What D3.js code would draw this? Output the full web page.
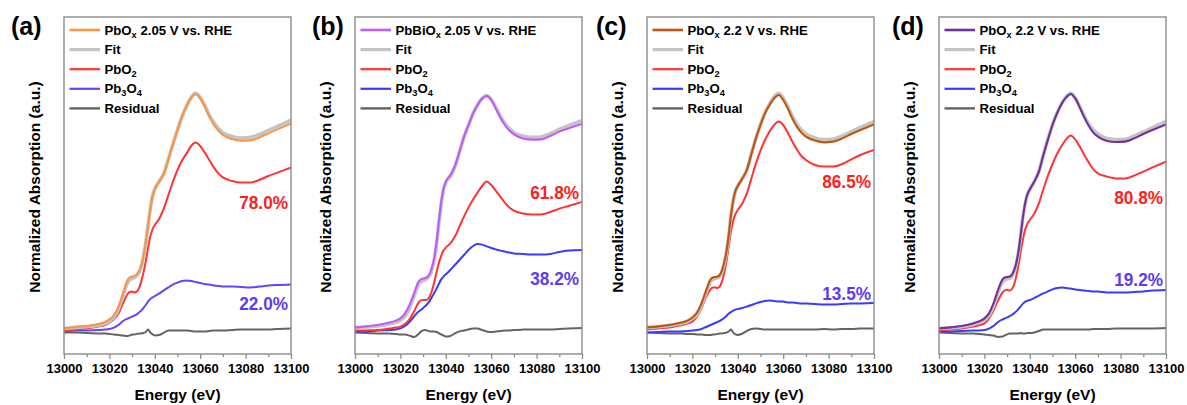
<!DOCTYPE html>
<html>
<head>
<meta charset="utf-8">
<script src="https://cdn.jsdelivr.net/npm/d3@7"></script>
<style>
  html, body { margin: 0; padding: 0; background: #fff; }
  svg { display: block; font-family: Arial, "Liberation Sans", sans-serif; font-weight: bold; }
  text { white-space: pre; }
</style>
</head>
<body>
<svg id="chart" width="1187" height="405"></svg>
<script>
// Pb L3-edge XANES linear-combination fits, energy grid in eV
const energy = [13000, 13005, 13010, 13015, 13018, 13020, 13022, 13024, 13026, 13028,
  13029, 13030, 13031, 13032, 13033, 13034, 13035, 13036, 13037, 13038,
  13039, 13040, 13042, 13044, 13046, 13048, 13050, 13052, 13054, 13056,
  13058, 13060, 13062, 13064, 13066, 13068, 13070, 13074, 13078, 13082,
  13086, 13090, 13094, 13100];

const panelTags = ["(a)", "(b)", "(c)", "(d)"];
const sampleNames = ["PbO_x 2.05 V vs. RHE", "PbBiO_x 2.05 V vs. RHE", "PbO_x 2.2 V vs. RHE", "PbO_x 2.2 V vs. RHE"];
const legendNames = ["Fit", "PbO_2", "Pb_3O_4", "Residual"];
const weightPbO2 = [78.0, 61.8, 86.5, 80.8];
const weightPb3O4 = [22.0, 38.2, 13.5, 19.2];
const xTicks = [13000, 13020, 13040, 13060, 13080, 13100];
const xMinorTicks = [13010, 13030, 13050, 13070, 13090];

// (a) PbOx 2.05 V
const sampleA = [0.8,1.5,2.0,3.0,4.0,5.3,7.5,11.7,18.3,25.0,26.3,26.8,27.0,27.8,29.2,32.0,36.7,43.3,51.7,60.0,66.7,70.3,74.2,78.0,85.3,93.0,100.0,106.7,112.0,116.0,118.0,115.8,111.7,106.7,102.7,99.7,97.5,95.5,94.7,94.8,96.3,98.3,100.3,103.3];
const fitA = [0.8,1.3,1.6,2.4,3.2,4.4,6.4,10.5,17.3,23.6,25.0,25.8,26.2,27.2,28.8,31.8,36.7,43.5,52.0,60.5,67.0,70.6,74.5,78.3,85.5,93.0,100.0,106.7,112.0,116.2,118.3,116.2,112.3,107.5,103.7,100.8,98.7,96.8,96.0,96.3,97.8,99.8,101.8,105.0];
const pbo2A = [0.0,0.3,0.8,1.7,2.5,3.7,5.3,8.3,13.3,18.0,19.0,19.2,18.8,19.2,20.8,24.2,28.7,34.2,40.8,46.7,50.3,52.5,55.8,60.8,67.5,74.2,80.0,84.7,88.3,92.0,93.7,92.0,88.7,85.0,81.3,78.3,76.3,74.5,73.7,73.7,75.0,77.0,78.7,81.2];
const pb3o4A = [-0.5,-0.3,-0.2,0.0,0.2,0.5,1.2,2.5,4.5,5.7,6.2,6.7,7.2,7.8,8.7,9.7,11.0,12.5,14.2,15.5,16.3,17.0,18.3,19.8,21.3,22.7,23.7,24.5,24.7,24.5,24.0,23.5,23.0,22.7,22.3,22.0,21.8,21.7,21.5,21.3,21.7,22.2,22.5,22.8];
const residualA = [-1.2,-1.3,-1.5,-1.7,-1.8,-2.0,-2.2,-2.5,-2.8,-3.0,-2.7,-2.3,-2.2,-2.0,-1.8,-1.7,-1.5,-1.0,0.3,-1.2,-2.2,-2.7,-2.5,-1.3,-0.3,-0.2,-0.2,-0.3,-0.3,-0.5,-0.7,-0.8,-0.7,-0.5,-0.3,-0.3,-0.3,0.0,0.3,0.2,0.2,0.3,0.5,0.7];

// (b) PbBiOx 2.05 V
const sampleB = [1.3,1.8,2.5,3.7,4.7,5.8,8.3,12.5,18.3,24.2,25.3,25.7,26.0,26.7,28.3,31.7,36.7,45.0,55.0,64.2,70.8,74.2,77.5,82.0,89.2,96.7,102.5,108.3,112.5,115.7,117.0,115.0,110.8,106.3,102.5,99.7,97.8,95.8,95.2,95.3,97.0,99.2,100.8,103.0];
const fitB = [1.2,1.5,2.0,3.0,3.8,4.7,6.8,10.8,16.8,22.7,24.0,24.7,25.2,26.0,27.5,30.8,35.5,43.5,53.5,63.0,70.0,73.7,77.0,81.5,88.7,96.3,102.3,108.2,112.5,115.8,117.2,115.3,111.3,107.0,103.3,100.7,98.8,97.0,96.3,96.5,98.2,100.3,102.2,104.7];
const pbo2B = [-0.3,-0.2,0.0,0.7,1.2,1.7,3.0,5.3,9.2,13.7,14.8,15.0,15.0,15.3,17.0,20.0,24.2,29.2,33.7,37.2,39.7,41.2,43.3,46.7,51.7,56.7,61.3,65.3,68.7,72.0,74.2,72.5,69.7,66.7,63.7,61.3,59.7,58.3,57.8,57.8,59.0,60.7,62.0,64.0];
const pb3o4B = [-0.8,-0.7,-0.3,0.0,0.3,0.8,2.0,4.0,6.7,9.2,10.0,11.0,12.0,13.2,14.7,16.7,18.7,20.8,23.2,25.3,26.7,27.8,30.0,32.5,35.0,37.5,40.0,42.0,43.0,42.7,41.8,41.0,40.3,39.7,39.2,38.7,38.3,38.0,37.7,37.7,38.0,39.0,39.7,40.0];
const residualB = [-1.3,-1.5,-1.7,-1.8,-2.0,-2.2,-2.3,-2.8,-3.5,-2.0,-0.8,-0.2,0.0,-0.3,-0.7,-0.8,-0.7,-1.0,-1.7,-2.2,-2.8,-3.3,-3.0,-1.7,-0.7,-0.2,0.3,0.8,0.7,0.0,-0.7,-1.0,-0.8,-0.5,-0.3,-0.2,0.0,0.2,0.3,0.2,0.3,0.5,0.7,1.0];

// (c) PbOx 2.2 V
const sampleC = [1.3,1.8,2.5,3.7,4.8,6.3,8.7,13.3,19.7,25.3,26.3,26.5,26.7,27.5,29.7,33.7,39.2,47.5,57.5,65.0,69.7,72.0,75.8,80.0,88.0,95.8,102.5,108.3,112.5,115.8,117.5,115.0,110.8,105.8,101.7,98.7,96.7,94.7,93.8,94.2,95.8,98.0,100.0,102.8];
const fitC = [1.2,1.6,2.3,3.3,4.3,5.7,7.8,12.3,18.5,24.2,25.3,25.7,26.0,26.8,29.0,33.0,38.7,47.0,57.0,64.7,69.5,72.0,75.8,80.2,88.2,96.0,102.8,108.7,113.0,116.5,118.3,116.0,111.8,107.0,103.0,100.0,98.0,96.0,95.2,95.5,97.0,99.2,101.3,104.2];
const pbo2C = [0.3,0.8,1.3,2.3,3.3,4.2,6.7,10.8,16.3,20.3,21.3,21.3,21.0,21.7,24.2,28.3,34.2,41.7,49.2,54.7,58.0,60.0,63.3,68.3,75.8,83.3,89.7,95.0,99.2,102.5,104.2,102.5,98.7,94.2,90.3,87.0,85.0,82.5,81.7,81.7,83.0,85.3,87.5,90.0];
const pb3o4C = [-1.2,-1.0,-0.8,-0.7,-0.5,-0.3,0.0,0.5,1.5,2.5,3.0,3.5,4.0,4.5,5.2,6.0,7.0,8.2,9.0,9.7,10.2,10.5,11.0,11.7,12.5,13.3,14.0,14.5,14.7,14.5,14.3,14.2,13.8,13.7,13.5,13.3,13.2,13.0,12.8,12.8,13.0,13.2,13.3,13.5];
const residualC = [-1.3,-1.5,-1.7,-1.8,-2.0,-2.0,-2.2,-2.3,-2.5,-2.5,-2.3,-2.2,-2.0,-1.8,-1.7,-1.5,-1.3,-0.7,0.2,-1.3,-2.2,-2.5,-1.8,-0.5,0.5,0.7,0.5,0.3,0.3,0.3,0.2,0.2,0.2,0.2,0.2,0.3,0.3,0.3,0.5,0.3,0.5,0.5,0.7,0.8];

// (d) PbOx 2.2 V
const sampleD = [0.8,1.3,2.0,3.3,4.5,5.8,8.3,13.3,20.0,25.3,26.3,26.5,26.7,27.5,29.7,33.3,39.2,47.5,56.7,63.7,68.0,70.3,74.2,79.2,87.5,95.3,102.5,108.3,113.0,116.3,118.0,115.8,111.3,106.3,102.0,98.7,96.7,94.5,94.0,94.2,95.8,98.0,100.0,102.8];
const fitD = [0.7,1.1,1.7,2.8,3.8,5.0,7.3,12.0,18.8,24.0,25.0,25.5,25.8,26.7,29.0,32.8,38.8,47.2,56.5,63.5,67.8,70.3,74.3,79.3,87.7,95.5,102.7,108.5,113.2,116.5,118.3,116.2,111.8,107.0,103.0,100.0,98.0,95.8,95.2,95.3,97.0,99.0,101.2,104.3];
const pbo2D = [0.0,0.3,0.8,1.7,2.5,3.3,5.7,9.7,14.7,18.8,19.8,20.0,19.7,20.3,22.5,26.7,32.5,39.2,45.5,50.3,53.3,55.0,58.3,63.3,70.5,77.2,83.0,88.0,92.0,95.3,97.2,95.3,91.7,87.5,83.7,80.3,78.3,76.7,75.8,75.8,77.2,79.2,81.3,84.2];
const pb3o4D = [-0.8,-0.7,-0.5,-0.3,-0.2,0.0,0.7,2.0,4.0,5.3,5.8,6.3,6.8,7.5,8.3,9.3,10.5,11.8,13.2,14.2,14.7,15.0,16.0,17.2,18.3,19.3,20.3,21.0,21.3,21.0,20.7,20.3,20.0,19.7,19.5,19.3,19.2,18.8,18.7,18.7,19.0,19.3,19.7,20.0];
const residualD = [-1.3,-1.5,-1.7,-1.8,-2.0,-2.2,-2.5,-2.8,-3.5,-3.3,-2.7,-2.2,-1.8,-1.7,-1.7,-1.8,-1.7,-1.5,-1.8,-1.7,-1.5,-1.5,-1.2,-0.5,0.2,0.3,0.3,0.2,0.2,0.2,0.2,0.2,0.3,0.3,0.3,0.5,0.5,0.5,0.7,0.7,0.7,0.8,0.8,1.0];

// ---- styling & layout ----
const sampleColors = ["#f79646", "#c05cf8", "#c0550f", "#7030a0"];
const pb3o4Colors = ["#6a40ff", "#3a3aff", "#3a3aff", "#3a3aff"];
const pbo2Color = "#ff3333";
const fitColor = "#c4c4c4";
const residualColor = "#646464";
const frameColor = "#8c8c8c";
const pctRed = "#ff2020";
const pctBlue = "#5b3cf5";

const panels = [
  { sample: sampleA, fit: fitA, pbo2: pbo2A, pb3o4: pb3o4A, residual: residualA },
  { sample: sampleB, fit: fitB, pbo2: pbo2B, pb3o4: pb3o4B, residual: residualB },
  { sample: sampleC, fit: fitC, pbo2: pbo2C, pb3o4: pb3o4C, residual: residualC },
  { sample: sampleD, fit: fitD, pbo2: pbo2D, pb3o4: pb3o4D, residual: residualD }
];

const frameLeft = [64, 355, 647, 939];
const tagX = [11, 312, 596, 892];
const plotW = 227, plotTop = 17, plotBottom = 354;
// baselines of the percentage annotations
const pctRedY = [209, 199, 188, 204];
const pctBlueY = [310, 285, 300, 286];

const svg = d3.select("#chart");
const y = d3.scaleLinear().domain([-12, 156.5]).range([plotBottom, plotTop]);

// text with "_c" marking a one-character subscript
function richText(sel, str, size) {
  const parts = str.split(/(_.)/).filter(s => s.length);
  let down = false;
  parts.forEach(p => {
    if (p.startsWith("_")) {
      sel.append("tspan").attr("font-size", size * 0.7).attr("dy", 3).text(p.slice(1));
      down = true;
    } else {
      const t = sel.append("tspan").text(p);
      if (down) { t.attr("dy", -3); down = false; }
    }
  });
}

panels.forEach((p, i) => {
  const x0 = frameLeft[i];
  const x = d3.scaleLinear().domain([13000, 13100]).range([x0, x0 + plotW]);
  const g = svg.append("g");

  // panel tag
  g.append("text").attr("x", tagX[i]).attr("y", 35)
    .attr("font-size", 25).attr("fill", "#000").text(panelTags[i]);

  // y title
  g.append("text")
    .attr("transform", `translate(${x0 - 24},187) rotate(-90)`)
    .attr("text-anchor", "middle").attr("font-size", 15.5).attr("fill", "#000")
    .text("Normalized Absorption (a.u.)");

  // x title
  g.append("text").attr("x", x0 + plotW / 2).attr("y", 399.5)
    .attr("text-anchor", "middle").attr("font-size", 15.5).attr("fill", "#000")
    .text("Energy (eV)");

  // axes
  const ax = g.append("g").attr("transform", `translate(0,${plotBottom})`)
    .call(d3.axisBottom(x).tickValues(xTicks).tickSize(5).tickPadding(5).tickFormat(d3.format("d")));
  ax.select(".domain").remove();
  ax.selectAll(".tick line").attr("stroke", frameColor).attr("stroke-width", 1.3);
  ax.selectAll(".tick text").attr("font-size", 13).attr("font-weight", "bold")
    .attr("fill", "#000").attr("font-family", "Arial, 'Liberation Sans', sans-serif");
  const axm = g.append("g").attr("transform", `translate(0,${plotBottom})`)
    .call(d3.axisBottom(x).tickValues(xMinorTicks).tickSize(3).tickFormat(""));
  axm.select(".domain").remove();
  axm.selectAll(".tick line").attr("stroke", frameColor).attr("stroke-width", 1.3);

  // curves
  const clip = g.append("clipPath").attr("id", "clip" + i)
    .append("rect").attr("x", x0).attr("y", plotTop).attr("width", plotW).attr("height", plotBottom - plotTop);
  const plot = g.append("g").attr("clip-path", `url(#clip${i})`);
  const line = d3.line().x((d, j) => x(energy[j])).y(d => y(d)).curve(d3.curveMonotoneX);
  const series = [
    { v: p.residual, c: residualColor, w: 2 },
    { v: p.pb3o4, c: pb3o4Colors[i], w: 2 },
    { v: p.pbo2, c: pbo2Color, w: 2 },
    { v: p.fit, c: fitColor, w: 3.6 },
    { v: p.sample, c: sampleColors[i], w: 2.1 }
  ];
  series.forEach(s => {
    plot.append("path").attr("d", line(s.v)).attr("fill", "none")
      .attr("stroke", s.c).attr("stroke-width", s.w)
      .attr("stroke-linejoin", "round").attr("stroke-linecap", "round");
  });

  // frame
  g.append("rect").attr("x", x0).attr("y", plotTop).attr("width", plotW)
    .attr("height", plotBottom - plotTop).attr("fill", "none")
    .attr("stroke", frameColor).attr("stroke-width", 1.4);

  // legend
  const legendItems = [
    { name: sampleNames[i], c: sampleColors[i], w: 2.6 },
    { name: legendNames[0], c: fitColor, w: 3.2 },
    { name: legendNames[1], c: pbo2Color, w: 2.2 },
    { name: legendNames[2], c: pb3o4Colors[i], w: 2.2 },
    { name: legendNames[3], c: residualColor, w: 2.4 }
  ];
  legendItems.forEach((it, k) => {
    const ly = 30 + k * 19.6;
    g.append("line").attr("x1", x0 + 5.5).attr("x2", x0 + 36)
      .attr("y1", ly).attr("y2", ly).attr("stroke", it.c).attr("stroke-width", it.w);
    const t = g.append("text").attr("x", x0 + 40.5).attr("y", ly + 4.6)
      .attr("font-size", 13.2).attr("fill", "#000");
    richText(t, it.name, 13.2);
  });

  // component fractions
  g.append("text")
    .attr("transform", `translate(${x0 + plotW - 3},${pctRedY[i]}) scale(0.93,1)`)
    .attr("text-anchor", "end").attr("font-size", 18.5).attr("fill", pctRed)
    .text(weightPbO2[i].toFixed(1) + "%");
  g.append("text")
    .attr("transform", `translate(${x0 + plotW - 3},${pctBlueY[i]}) scale(0.93,1)`)
    .attr("text-anchor", "end").attr("font-size", 18.5).attr("fill", pctBlue)
    .text(weightPb3O4[i].toFixed(1) + "%");
});
</script>
</body>
</html>
